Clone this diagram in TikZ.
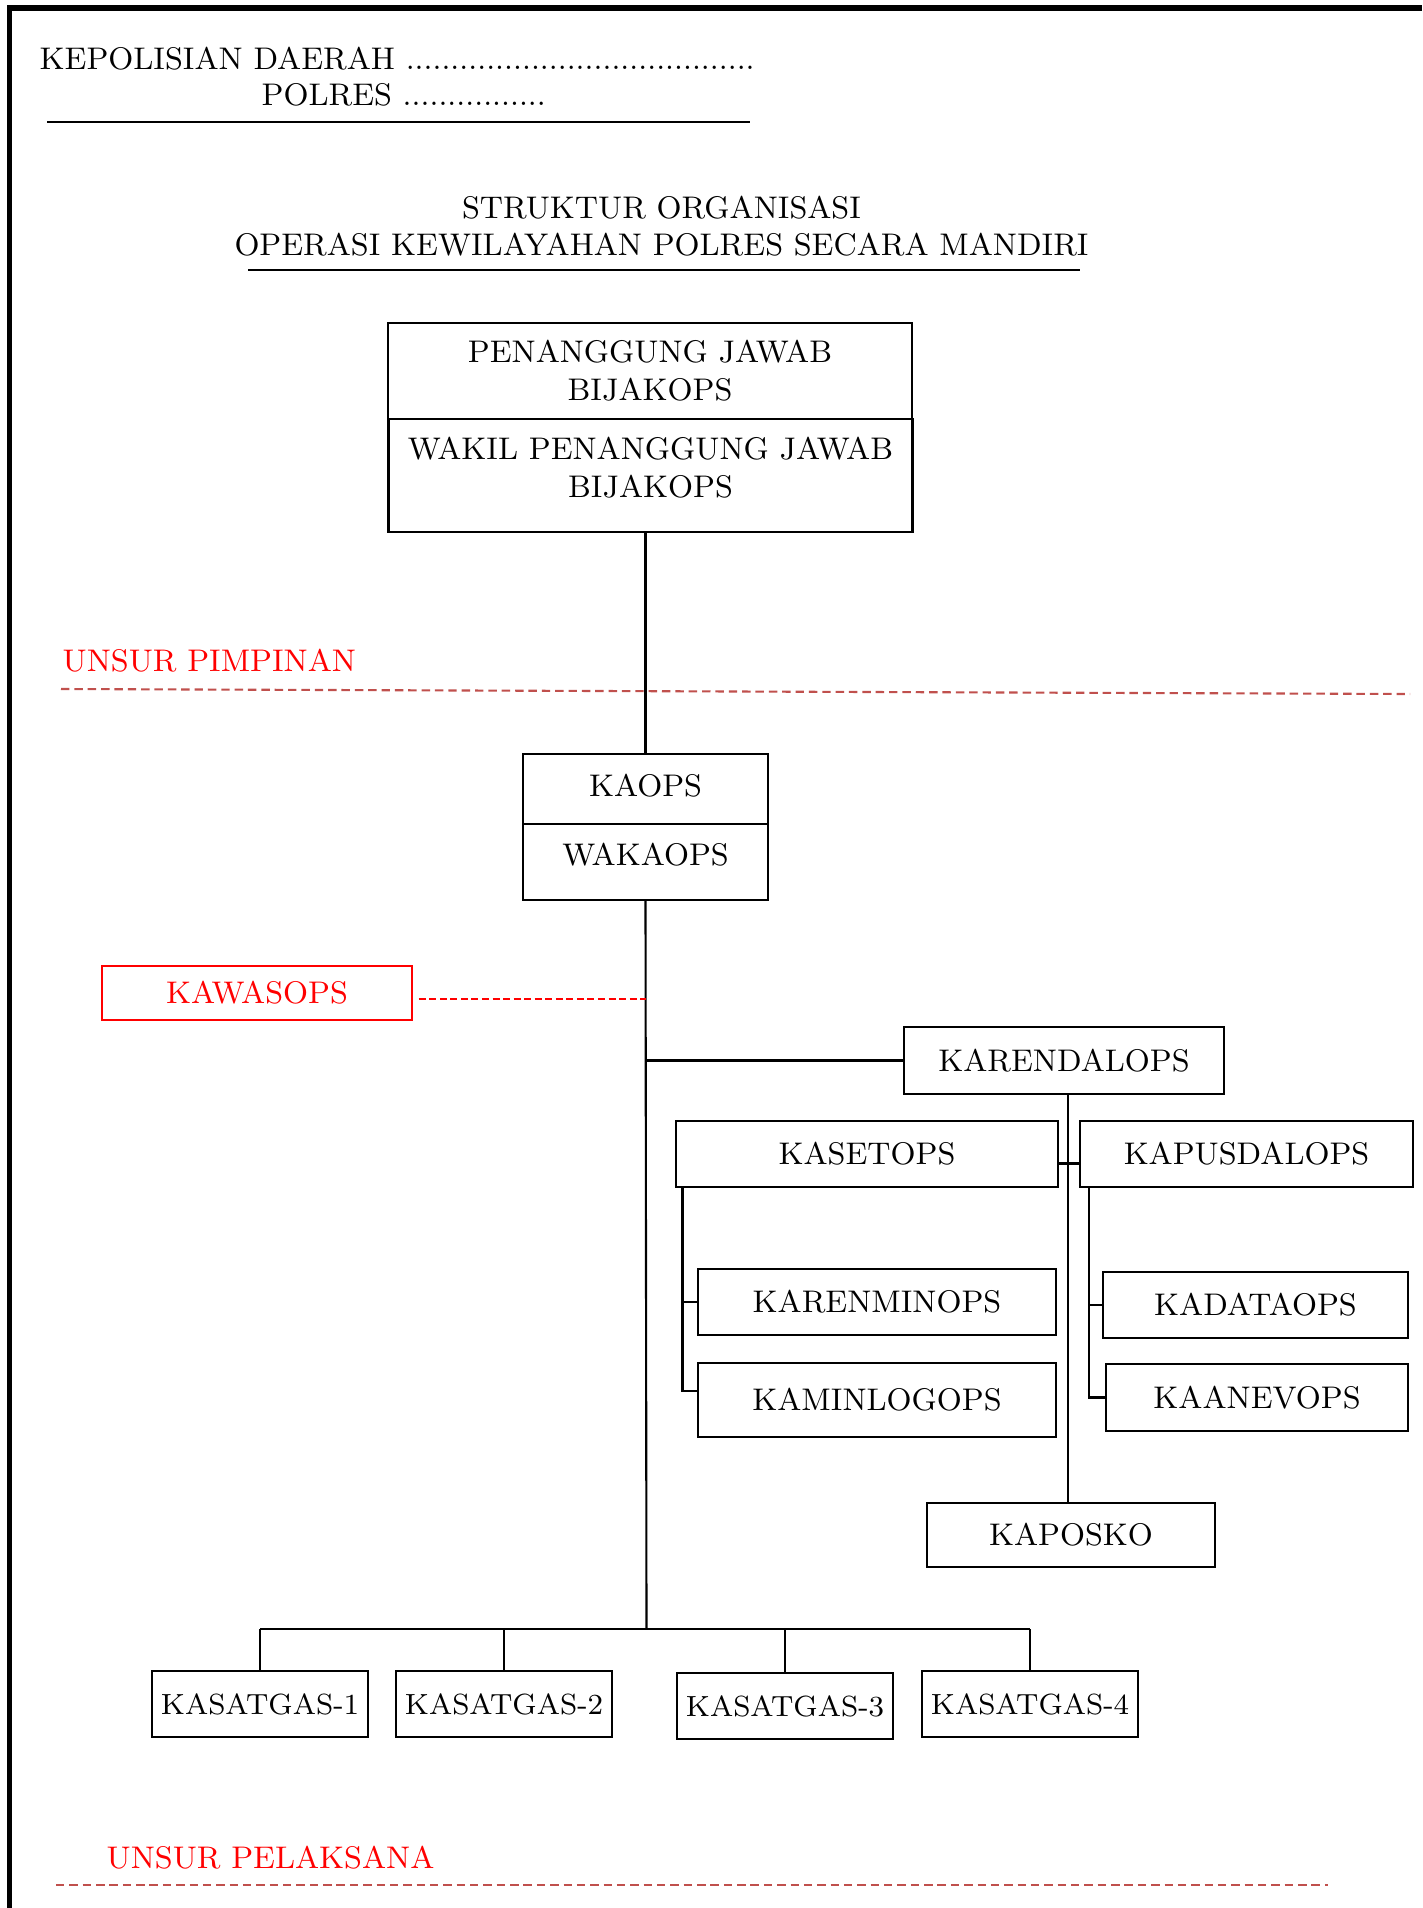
\documentclass[tikz,border=0pt]{standalone}
\usepackage[usenames]{xcolor}
\usepackage{tikz}

\definecolor{merahtua}{HTML}{C0504D}

\begin{document}
\begin{tikzpicture}[
	font=\fontsize{8.9}{10.7}\selectfont,
	kotak/.style={draw,semithick,inner sep=0pt,align=center},
	kotakmerah/.style={draw=red,text=red,thin,inner sep=0pt},
	satgas/.style={kotak,minimum width=2.16cm,minimum height=0.66cm,font=\fontsize{8.3}{10}\selectfont},
	garis/.style={semithick},
	batas/.style={red,semithick,dash pattern=on 2pt off 1pt},
	pemisah/.style={merahtua,semithick,dash pattern=on 2.4pt off 1.4pt},
	unsur/.style={red,anchor=west,inner sep=0pt}
	]
	
	\useasboundingbox (0,0) rectangle (14.22,-19.08);
	\draw[line width=1.6pt] (0.095,-19.08) -- (0.095,-0.08) -- (14.22,-0.08);
	
	\node[anchor=west,inner sep=0pt] (polda) at (0.39,-0.587) {KEPOLISIAN DAERAH .......................................};
	\node[anchor=west,inner sep=0pt] (polres) at (2.61,-0.95) {POLRES ................};
	\draw[semithick] (0.47,-1.22) -- (7.50,-1.22);
	
	\node[align=center,inner sep=0pt] (judul) at (6.615,-2.26) {STRUKTUR ORGANISASI\\OPERASI KEWILAYAHAN POLRES SECARA MANDIRI};
	\draw[semithick] (2.48,-2.70) -- (10.80,-2.70);
	
	\node[kotak,minimum width=5.24cm,minimum height=0.96cm] (pj) at (6.50,-3.707) {PENANGGUNG JAWAB\\BIJAKOPS};
	\node[kotak,minimum width=5.24cm,minimum height=1.13cm,text depth=4.6pt] (wpj) at (6.505,-4.752) {WAKIL PENANGGUNG JAWAB\\BIJAKOPS};
	
	\node[unsur] (pimpinan) at (0.62,-6.61) {UNSUR PIMPINAN};
	\draw[pemisah] (0.61,-6.89) -- (14.10,-6.94);
	
	\node[kotak,minimum width=2.45cm,minimum height=0.70cm,text depth=1.9pt] (kaops) at (6.455,-7.89) {KAOPS};
	\node[kotak,minimum width=2.45cm,minimum height=0.76cm,text depth=4.3pt] (wakaops) at (6.455,-8.62) {WAKAOPS};
	
	\node[kotakmerah,minimum width=3.10cm,minimum height=0.54cm] (kawasops) at (2.57,-9.93) {KAWASOPS};
	
	\node[kotak,minimum width=3.20cm,minimum height=0.67cm] (karendalops) at (10.64,-10.605) {KARENDALOPS};
	\node[kotak,minimum width=3.82cm,minimum height=0.66cm] (kasetops) at (8.67,-11.54) {KASETOPS};
	\node[kotak,minimum width=3.33cm,minimum height=0.66cm] (kapusdalops) at (12.465,-11.54) {KAPUSDALOPS};
	\node[kotak,minimum width=3.585cm,minimum height=0.66cm] (karenminops) at (8.77,-13.02) {KARENMINOPS};
	\node[kotak,minimum width=3.585cm,minimum height=0.74cm] (kaminlogops) at (8.77,-14.00) {KAMINLOGOPS};
	\node[kotak,minimum width=3.05cm,minimum height=0.66cm] (kadataops) at (12.555,-13.05) {KADATAOPS};
	\node[kotak,minimum width=3.02cm,minimum height=0.67cm] (kaanevops) at (12.57,-13.975) {KAANEVOPS};
	\node[kotak,minimum width=2.88cm,minimum height=0.64cm] (kaposko) at (10.71,-15.35) {KAPOSKO};
	
	\node[satgas] (ks1) at (2.60,-17.04) {KASATGAS-1};
	\node[satgas] (ks2) at (5.04,-17.04) {KASATGAS-2};
	\node[satgas] (ks3) at (7.85,-17.06) {KASATGAS-3};
	\node[satgas] (ks4) at (10.30,-17.04) {KASATGAS-4};
	
	\node[unsur] (pelaksana) at (1.06,-18.58) {UNSUR PELAKSANA};
	\draw[pemisah] (0.56,-18.85) -- (13.28,-18.85);
	
	\coordinate (cabang) at (6.465,-16.29);
	\coordinate (tiangset) at ([xshift=0.075cm]kasetops.south west);
	\coordinate (tiangpus) at ([xshift=0.10cm]kapusdalops.south west);
	
	\draw[garis] (kaops.north |- wpj.south) -- (kaops.north);
	\draw[garis] (wakaops.south) -- (cabang);
	\draw[batas] ([xshift=0.06cm,yshift=-0.06cm]kawasops.east) -- ([yshift=-0.06cm]kawasops.east -| wakaops.south);
	\draw[garis] (karendalops.west -| wakaops.south) -- (karendalops.west);
	\draw[garis] ([xshift=0.04cm]karendalops.south) -- ([xshift=0.04cm]karendalops.south |- kaposko.north);
	\draw[garis] ([yshift=-0.095cm]kasetops.east) -- ([yshift=-0.095cm]kapusdalops.west);
	
	\draw[garis] (tiangset) |- ([yshift=0.09cm]kaminlogops.west);
	\draw[garis] (tiangset |- karenminops.west) -- (karenminops.west);
	\draw[garis] (tiangpus) |- (kaanevops.west);
	\draw[garis] (tiangpus |- kadataops.west) -- (kadataops.west);
	
	\draw[line width=0.8pt] (ks1.north |- cabang) -- (ks4.north |- cabang);
	\draw[garis] (ks1.north |- cabang) -- (ks1.north);
	\draw[garis] (ks2.north |- cabang) -- (ks2.north);
	\draw[garis] (ks3.north |- cabang) -- (ks3.north);
	\draw[garis] (ks4.north |- cabang) -- (ks4.north);
	
\end{tikzpicture}
\end{document}
